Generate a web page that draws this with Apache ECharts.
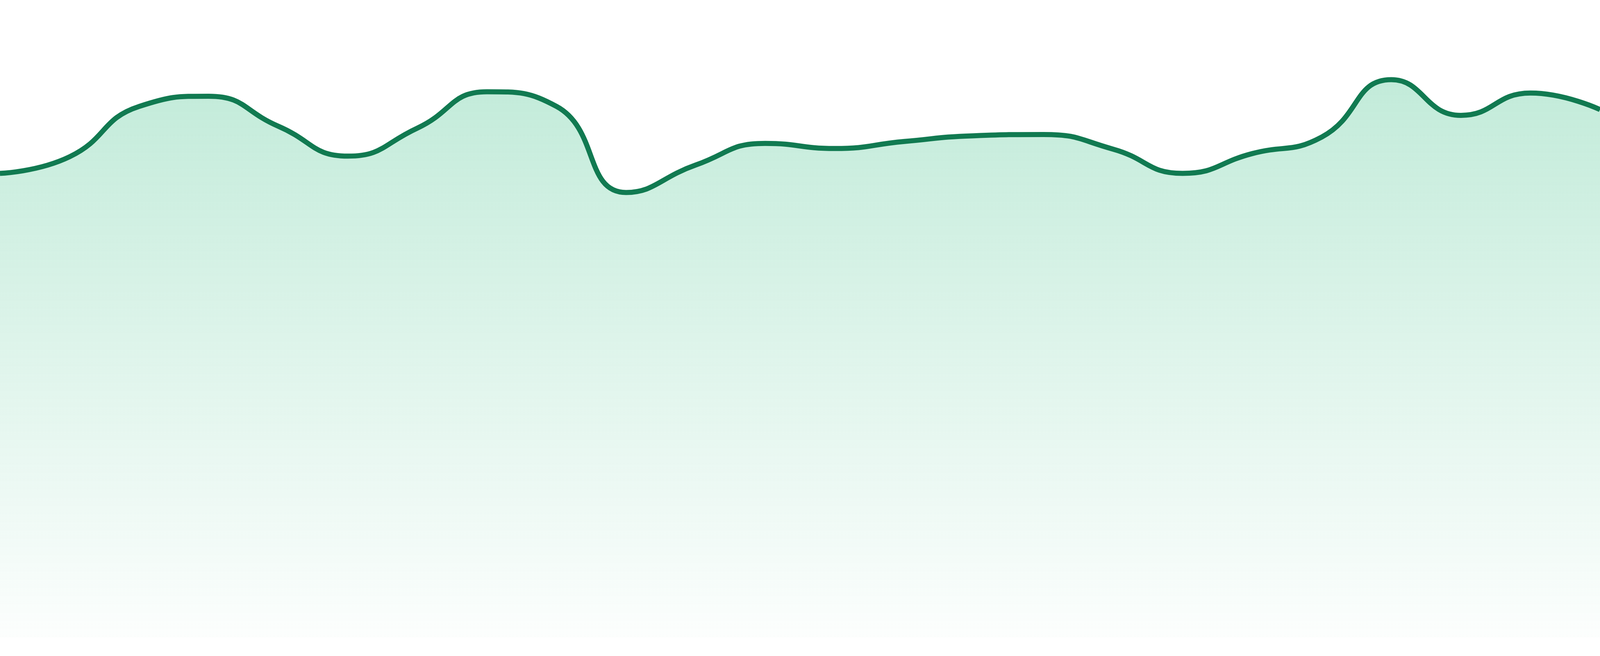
<!DOCTYPE html>
<html>
<head>
<meta charset="utf-8">
<title>area</title>
<script src="https://cdn.jsdelivr.net/npm/echarts@6/dist/echarts.min.js"></script>
<style>
  html, body { margin: 0; padding: 0; background: #fff; width: 100%; height: 100%; overflow: hidden; }
  #main { width: 100vw; height: 100vh; }
</style>
</head>
<body>
<div id="main"></div>
<script>
// x categories (axis is hidden in the picture)
var days = ['1', '2', '3', '4', '5', '6', '7', '8', '9', '10', '11', '12',
            '13', '14', '15', '16', '17', '18', '19', '20', '21', '22', '23', '24'];
// values
var values = [72.8, 75.4, 83.3, 84.9, 80.2, 75.5, 79.9, 85.6, 83.3, 69.8, 74.1, 77.5,
              76.7, 77.8, 78.7, 78.9, 76.6, 72.8, 75.9, 78.5, 87.5, 81.9, 85.4, 82.8];

var myChart = echarts.init(document.getElementById('main'));
myChart.setOption({
  animation: false,
  grid: { left: 0, right: 0, top: 0, bottom: '2.85%' },
  xAxis: {
    type: 'category',
    boundaryGap: false,
    data: days,
    show: false
  },
  yAxis: {
    type: 'value',
    min: 0,
    max: 100,
    show: false
  },
  series: [{
    type: 'line',
    data: values,
    smooth: true,
    symbol: 'none',
    lineStyle: { color: '#117a51', width: 13 },
    areaStyle: {
      color: new echarts.graphic.LinearGradient(0, 0, 0, 1, [
        { offset: 0, color: 'rgba(38,184,121,0.40)' },
        { offset: 1, color: 'rgba(38,184,121,0.02)' }
      ])
    }
  }]
});
window.addEventListener('resize', function () { myChart.resize(); });
</script>
</body>
</html>
